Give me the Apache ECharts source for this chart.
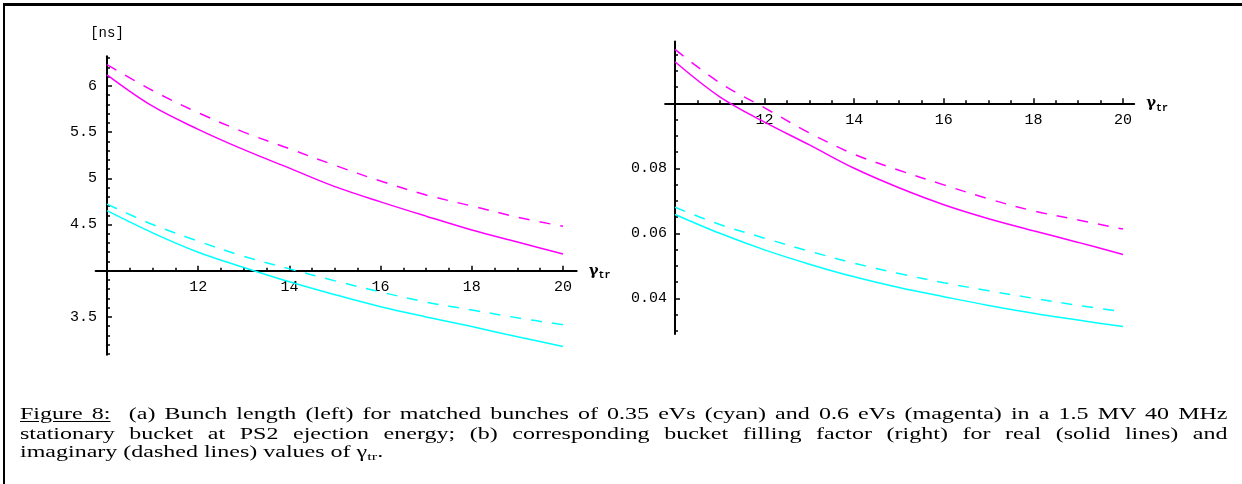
<!DOCTYPE html>
<html>
<head>
<meta charset="utf-8">
<script src="https://cdn.jsdelivr.net/npm/echarts@6.0.0/dist/echarts.min.js"></script>
<style>
    body { margin: 0; background: #fff; }
    #page { position: relative; width: 1242px; height: 484px; overflow: hidden; }
    #chart { position: absolute; left: 0; top: 0; width: 1242px; height: 484px; }
    #frameTop { position: absolute; left: 3px; top: 3px; width: 1239px; height: 0; border-top: 3px solid #000; }
    #frameLeft { position: absolute; left: 3px; top: 3px; width: 0; height: 481px; border-left: 2px solid #000; }
    /* 图注文字在原图中被横向拉宽, 这里用 scaleX 还原 */
    .cap { position: absolute; left: 20px; width: 805px; font-family: "Liberation Serif", "Times New Roman", serif;
        font-size: 16px; line-height: 19px; color: #000; white-space: nowrap;
        transform: scaleX(1.5); transform-origin: 0 0; }
    .just { text-align: justify; text-align-last: justify; white-space: normal; }
    .cap u { text-underline-offset: 2px; }
    .cap sub { font-size: 11px; vertical-align: -3px; line-height: 0; }
</style>
</head>
<body>
<div id="page">
    <div id="chart"></div>
    <div id="frameTop"></div>
    <div id="frameLeft"></div>
    <div class="cap just" style="top:404px"><u>Figure 8:</u>&nbsp; (a) Bunch length (left) for matched bunches of 0.35 eVs (cyan) and 0.6 eVs (magenta) in a 1.5 MV 40 MHz</div>
    <div class="cap just" style="top:424px">stationary bucket at PS2 ejection energy; (b) corresponding bucket filling factor (right) for real (solid lines) and</div>
    <div class="cap" style="top:442px">imaginary (dashed lines) values of &gamma;<sub>tr</sub>.</div>
</div>
<script>
//gamma_tr 取值
var gammaTr = [10, 11, 12, 13, 14, 15, 16, 17, 18, 19, 20];

//(a) 束长 [ns]
var lenCyanReal = [4.65, 4.41, 4.20, 4.035, 3.88, 3.74, 3.61, 3.50, 3.395, 3.285, 3.18];
var lenCyanImag = [4.72, 4.50, 4.32, 4.155, 4.02, 3.89, 3.77, 3.66, 3.575, 3.49, 3.415];
var lenMagReal = [6.12, 5.78, 5.53, 5.31, 5.11, 4.91, 4.745, 4.59, 4.44, 4.31, 4.18];
var lenMagImag = [6.23, 5.95, 5.71, 5.50, 5.32, 5.14, 4.97, 4.82, 4.70, 4.58, 4.48];

//(b) 填充因子
var fillCyanReal = [0.0658, 0.0600, 0.0549, 0.0505, 0.0466, 0.0433, 0.0405, 0.0378, 0.0354, 0.0333, 0.0313];
var fillCyanImag = [0.0680, 0.0627, 0.0585, 0.0545, 0.0508, 0.0476, 0.0448, 0.0423, 0.0400, 0.0378, 0.0359];
var fillMagReal = [0.1128, 0.1020, 0.0942, 0.0872, 0.0800, 0.0740, 0.0688, 0.0645, 0.0608, 0.0572, 0.0535];
var fillMagImag = [0.1166, 0.1063, 0.0986, 0.0909, 0.0843, 0.0794, 0.0749, 0.0706, 0.0669, 0.0641, 0.0613];

//刻度标签
var xTickLabels = [12, 14, 16, 18, 20];
var lenTickLabels = [3.5, 4.5, 5, 5.5, 6];
var fillTickLabels = [0.04, 0.06, 0.08];

var tickFont = "'Liberation Mono', 'Courier New', monospace";
var magenta = '#ff00ff';
var cyan = '#00ffff';

//两个面板: 坐标轴交点像素位置, 每单位像素, 轴范围
var panels = [
    {ox: 107, oy: 270.7, x0: 10, y0: 4, sx: 45.6, sy: 92.4, xMin: 9.75, xMax: 20.3, yMin: 3.09, yMax: 6.32,
        yLabels: lenTickLabels, yMinorFrom: 3.1, yMinorTo: 6.3, yMinorStep: 0.1, yName: '[ns]', yLabelMargin: 10,
        series: [[lenMagImag, magenta, true], [lenMagReal, magenta, false], [lenCyanImag, cyan, true], [lenCyanReal, cyan, false]]},
    {ox: 675, oy: 103.3, x0: 10, y0: 0.1, sx: 44.8, sy: 3250, xMin: 9.78, xMax: 20.25, yMin: 0.029, yMax: 0.119,
        yLabels: fillTickLabels, yMinorFrom: 0.03, yMinorTo: 0.115, yMinorStep: 0.005, yName: '', yLabelMargin: 8,
        series: [[fillMagImag, magenta, true], [fillMagReal, magenta, false], [fillCyanImag, cyan, true], [fillCyanReal, cyan, false]]}
];

function range(from, to, step) {
    var out = [];
    for (var v = from; v <= to + step / 2; v += step) {
        out.push(Math.round(v * 10000) / 10000);
    }
    return out;
}

function pairs(xs, ys) {
    var out = [];
    for (var i = 0; i < xs.length; i++) {
        out.push([xs[i], ys[i]]);
    }
    return out;
}

var option = {
    animation: false,
    backgroundColor: 'transparent',
    grid: [],
    xAxis: [],
    yAxis: [],
    series: []
};

panels.forEach(function(p, gi) {
    option.grid.push({
        left: p.ox - (p.x0 - p.xMin) * p.sx,
        top: p.oy - (p.yMax - p.y0) * p.sy,
        width: (p.xMax - p.xMin) * p.sx,
        height: (p.yMax - p.yMin) * p.sy,
        containLabel: false,
        outerBoundsMode: 'none'
    });
    var xOffset = -(p.y0 - p.yMin) * p.sy;
    var yOffset = -(p.x0 - p.xMin) * p.sx;
    var xMinor = range(10.5, 19.5, 0.5).filter(function(v) { return v % 2 != 0; });
    var yMinor = range(p.yMinorFrom, p.yMinorTo, p.yMinorStep);

    //主 x 轴: 轴线, 主刻度, 标签
    option.xAxis.push({
        type: 'value', gridIndex: gi, min: p.xMin, max: p.xMax, position: 'bottom', offset: xOffset,
        axisLine: {show: true, onZero: false, lineStyle: {color: '#000', width: 2}},
        axisTick: {show: true, inside: true, length: 5, customValues: xTickLabels, lineStyle: {color: '#000', width: 1.5}},
        axisLabel: {show: true, customValues: xTickLabels, margin: 9, color: '#000', fontFamily: tickFont, fontSize: 15},
        splitLine: {show: false},
        name: '{g|γ}{s|tr}', nameLocation: 'end', nameGap: 12,
        nameTextStyle: {
            rich: {
                g: {fontFamily: "'DejaVu Serif', serif", fontSize: 15, fontWeight: 'bold', color: '#000', lineHeight: 20, verticalAlign: 'middle'},
                s: {fontFamily: tickFont, fontSize: 10, fontWeight: 'bold', color: '#000', lineHeight: 20, verticalAlign: 'bottom'}
            }
        }
    });
    //次 x 轴: 只画小刻度
    option.xAxis.push({
        type: 'value', gridIndex: gi, min: p.xMin, max: p.xMax, position: 'bottom', offset: xOffset,
        axisLine: {show: false, onZero: false},
        axisTick: {show: true, inside: true, length: 3, customValues: xMinor, lineStyle: {color: '#000', width: 1.5}},
        axisLabel: {show: false},
        splitLine: {show: false}
    });
    //主 y 轴
    option.yAxis.push({
        type: 'value', gridIndex: gi, min: p.yMin, max: p.yMax, position: 'left', offset: yOffset,
        axisLine: {show: true, onZero: false, lineStyle: {color: '#000', width: 2}},
        axisTick: {show: true, inside: true, length: 5, customValues: p.yLabels, lineStyle: {color: '#000', width: 1.5}},
        axisLabel: {show: true, customValues: p.yLabels, margin: p.yLabelMargin, color: '#000', fontFamily: tickFont, fontSize: 15},
        splitLine: {show: false},
        name: p.yName, nameLocation: 'end', nameGap: 16,
        nameTextStyle: {fontFamily: tickFont, fontSize: 14, color: '#000'}
    });
    //次 y 轴
    option.yAxis.push({
        type: 'value', gridIndex: gi, min: p.yMin, max: p.yMax, position: 'left', offset: yOffset,
        axisLine: {show: false, onZero: false},
        axisTick: {show: true, inside: true, length: 3, customValues: yMinor, lineStyle: {color: '#000', width: 1.5}},
        axisLabel: {show: false},
        splitLine: {show: false}
    });

    p.series.forEach(function(s) {
        option.series.push({
            type: 'line',
            xAxisIndex: gi * 2,
            yAxisIndex: gi * 2,
            data: pairs(gammaTr, s[0]),
            smooth: 0.35,
            showSymbol: false,
            silent: true,
            lineStyle: {color: s[1], width: 1.5, type: s[2] ? [11, 10] : 'solid'}
        });
    });
});

var myChart = echarts.init(document.getElementById('chart'), null, {renderer: 'canvas'});
myChart.setOption(option);
</script>
</body>
</html>
